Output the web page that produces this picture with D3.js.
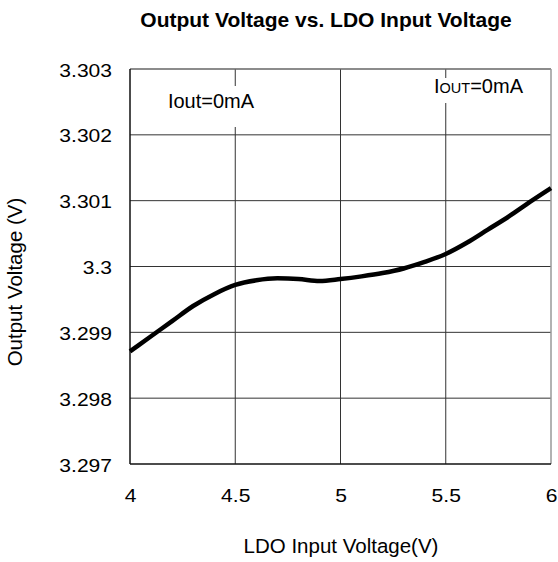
<!DOCTYPE html>
<html>
<head>
<meta charset="utf-8">
<script src="https://cdn.jsdelivr.net/npm/d3@7"></script>
<style>
  html, body { margin: 0; padding: 0; background: #fff; }
  svg { display: block; font-family: "Liberation Sans", Arial, sans-serif; }
</style>
</head>
<body>
<svg id="chart" width="558" height="562"></svg>
<script>
// LDO input voltage (V)
const vin = [4.0, 4.1, 4.2, 4.3, 4.4, 4.5, 4.6, 4.7, 4.8, 4.9, 5.0,
             5.1, 5.2, 5.3, 5.4, 5.5, 5.6, 5.7, 5.8, 5.9, 6.0];
// Output voltage (V) at Iout = 0 mA
const vout = [3.29871, 3.29894, 3.29917, 3.29940, 3.29958, 3.29972, 3.29979, 3.29982, 3.29981, 3.29978, 3.29981,
              3.29985, 3.29990, 3.29997, 3.30007, 3.30019, 3.30036, 3.30056, 3.30076, 3.30098, 3.30119];
const xTicks = [4, 4.5, 5, 5.5, 6];
const xTickLabels = ["4", "4.5", "5", "5.5", "6"];
const yTicks = [3.297, 3.298, 3.299, 3.3, 3.301, 3.302, 3.303];
const yTickLabels = ["3.297", "3.298", "3.299", "3.3", "3.301", "3.302", "3.303"];

const svg = d3.select("#chart");
const pLeft = 130, pRight = 551, pTop = 69, pBottom = 464;
const tickFont = 18, tickStretch = 1.17;

const x = d3.scaleLinear().domain([4, 6]).range([pLeft, pRight]);
const y = d3.scaleLinear().domain([3.297, 3.303]).range([pBottom, pTop]);

// grid
const grid = svg.append("g");
grid.selectAll("line.vx").data(xTicks.slice(1, -1)).join("line")
  .attr("x1", d => x(d)).attr("x2", d => x(d))
  .attr("y1", pTop).attr("y2", pBottom)
  .attr("stroke", "#333").attr("stroke-width", 1);
grid.selectAll("line.hy").data(yTicks.slice(1, -1)).join("line")
  .attr("x1", pLeft).attr("x2", pRight)
  .attr("y1", d => y(d)).attr("y2", d => y(d))
  .attr("stroke", "#333").attr("stroke-width", 1);

// frame
svg.append("line").attr("x1", pLeft).attr("x2", pRight).attr("y1", pTop).attr("y2", pTop)
  .attr("stroke", "#666").attr("stroke-width", 1.5);
svg.append("line").attr("x1", pRight).attr("x2", pRight).attr("y1", pTop).attr("y2", pBottom)
  .attr("stroke", "#999").attr("stroke-width", 1.5);
svg.append("line").attr("x1", pLeft).attr("x2", pLeft).attr("y1", pTop).attr("y2", pBottom)
  .attr("stroke", "#111").attr("stroke-width", 1.5);
svg.append("line").attr("x1", pLeft).attr("x2", pRight).attr("y1", pBottom).attr("y2", pBottom)
  .attr("stroke", "#111").attr("stroke-width", 1.5);

// annotations with white backing
svg.append("rect").attr("x", 162).attr("y", 86).attr("width", 98).attr("height", 41).attr("fill", "#fff");
svg.append("text").attr("x", 211).attr("y", 108).attr("text-anchor", "middle")
  .attr("font-size", 20).attr("fill", "#000").text("Iout=0mA");

svg.append("rect").attr("x", 431).attr("y", 78).attr("width", 100).attr("height", 25).attr("fill", "#fff");
const t2 = svg.append("text").attr("x", 434).attr("y", 93).attr("font-size", 20).attr("fill", "#000");
t2.append("tspan").text("I");
t2.append("tspan").attr("font-size", 14.5).text("OUT");
t2.append("tspan").text("=0mA");

// curve
const line = d3.line().x((d, i) => x(vin[i])).y(d => y(d)).curve(d3.curveMonotoneX);
svg.append("path").datum(vout).attr("d", line)
  .attr("fill", "none").attr("stroke", "#000").attr("stroke-width", 4.5)
  .attr("stroke-linejoin", "round");

// axes (labels only; the frame draws the lines)
const xAxis = d3.axisBottom(x).tickValues(xTicks).tickSize(0).tickPadding(0)
  .tickFormat((d, i) => xTickLabels[i]);
const gx = svg.append("g").attr("transform", `translate(0,${pBottom})`).call(xAxis);
gx.select(".domain").remove();
gx.selectAll("text")
  .attr("font-size", tickFont).attr("fill", "#000").attr("font-family", "Liberation Sans, Arial, sans-serif")
  .attr("y", 0).attr("dy", 0)
  .attr("transform", `translate(0,38) scale(${tickStretch},1)`);

const yAxis = d3.axisLeft(y).tickValues(yTicks).tickSize(0).tickPadding(0)
  .tickFormat((d, i) => yTickLabels[i]);
const gy = svg.append("g").attr("transform", `translate(${pLeft},0)`).call(yAxis);
gy.select(".domain").remove();
gy.selectAll("text")
  .attr("font-size", tickFont).attr("fill", "#000").attr("font-family", "Liberation Sans, Arial, sans-serif")
  .attr("x", 0).attr("dy", 0)
  .attr("transform", `translate(-18,7) scale(${tickStretch},1)`);

// titles
svg.append("text").attr("x", 326).attr("y", 26.5).attr("text-anchor", "middle")
  .attr("font-size", 21).attr("font-weight", "bold").attr("fill", "#000")
  .text("Output Voltage vs. LDO Input Voltage");
svg.append("text").attr("x", 341).attr("y", 553).attr("text-anchor", "middle")
  .attr("font-size", 20.5).attr("fill", "#000").text("LDO Input Voltage(V)");
svg.append("text").attr("transform", "translate(22,282) rotate(-90)").attr("text-anchor", "middle")
  .attr("font-size", 20.5).attr("fill", "#000").text("Output Voltage (V)");
</script>
</body>
</html>
